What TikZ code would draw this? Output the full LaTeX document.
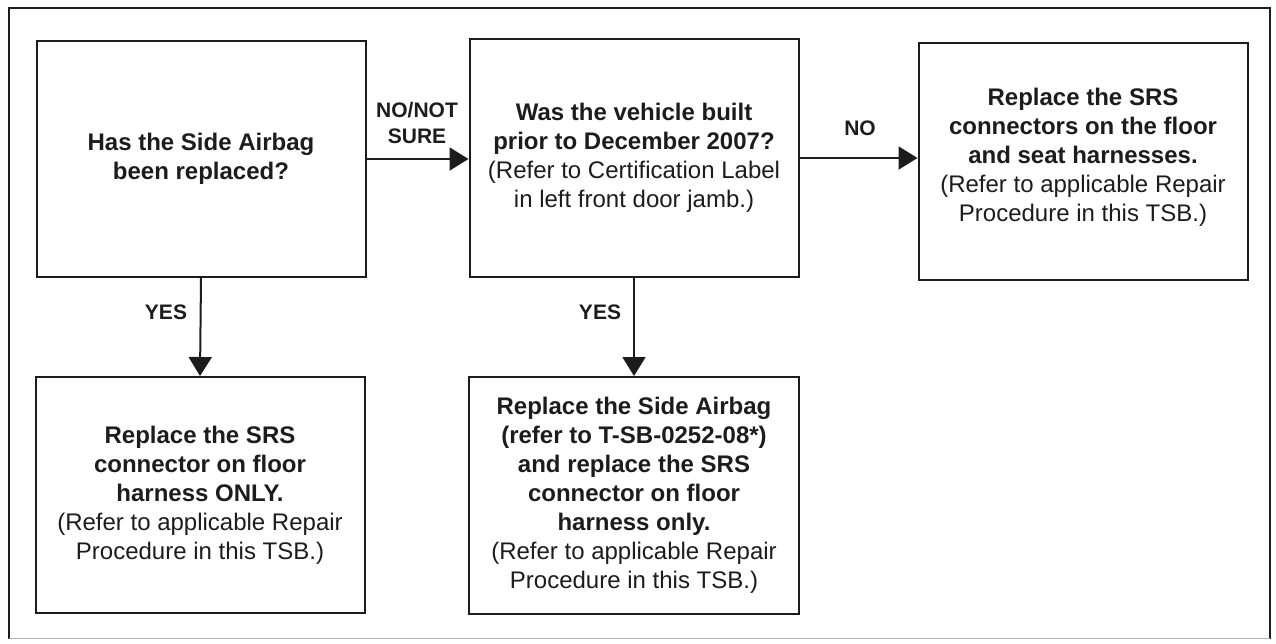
\documentclass[tikz,border=0pt]{standalone}
\usepackage{fontspec}
\setmainfont{Liberation Sans}
\usetikzlibrary{arrows.meta}
\definecolor{ink}{RGB}{28,28,28}
\tikzset{
  box/.style={draw=ink, line width=2pt, align=center, text=ink, inner sep=0pt,
    font=\fontsize{24}{29}\selectfont},
  arr/.style={draw=ink, line width=2pt, -{Triangle[length=19pt,width=23pt]}},
  lbl/.style={text=ink, align=center, inner sep=0pt, font=\fontsize{21}{26}\selectfont\bfseries},
}
\begin{document}
\begin{tikzpicture}[x=1pt,y=-1pt]
\useasboundingbox (0,0) rectangle (1276,643);
\draw[ink, line width=2pt] (9,639) -- (9,8) -- (1270,8) -- (1270,639);
\draw[gray!60, line width=1pt] (9,638) -- (1270,638);

\node[box, minimum width=329pt, minimum height=236pt] (A) at (201,159)
  {\textbf{Has the Side Airbag}\\ \textbf{been replaced?}};
\node[box, minimum width=329pt, minimum height=238pt] (B) at (634,158)
  {\textbf{Was the vehicle built}\\ \textbf{prior to December 2007?}\\ (Refer to Certification Label\\ in left front door jamb.)};
\node[box, minimum width=329pt, minimum height=237pt] (C) at (1083,161)
  {\textbf{Replace the SRS}\\ \textbf{connectors on the floor}\\ \textbf{and seat harnesses.}\\ (Refer to applicable Repair\\ Procedure in this TSB.)\\[-16pt]\mbox{}};
\node[box, minimum width=329pt, minimum height=236pt] (D) at (200,495)
  {\textbf{Replace the SRS}\\ \textbf{connector on floor}\\ \textbf{harness ONLY.}\\ (Refer to applicable Repair\\ Procedure in this TSB.)};
\node[box, minimum width=330pt, minimum height=237pt] (E) at (634,495.5)
  {\textbf{Replace the Side Airbag}\\ \textbf{(refer to T-SB-0252-08*)}\\ \textbf{and replace the SRS}\\ \textbf{connector on floor}\\ \textbf{harness only.}\\ (Refer to applicable Repair\\ Procedure in this TSB.)};

\draw[arr] (A.east) -- (A.east -| B.west);
\draw[arr] (B.east) -- (B.east -| C.west);
\draw[arr] (A.south) -- (D.north);
\draw[arr] (B.south) -- (E.north);

\node[lbl] (l1) at (417,123) {NO/NOT\\SURE};
\node[lbl] (l2) at (860,128) {NO};
\node[lbl] (l3) at (166,312) {YES};
\node[lbl] (l4) at (600,312) {YES};
\end{tikzpicture}
\end{document}
